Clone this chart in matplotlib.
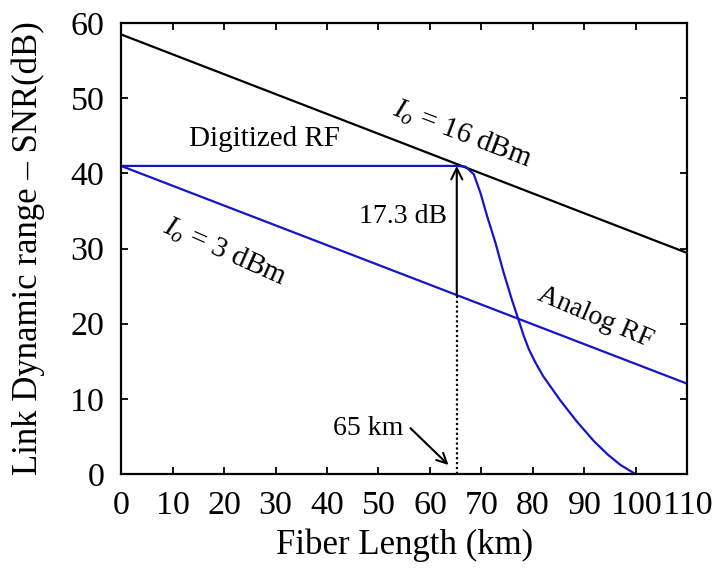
import matplotlib
matplotlib.use("Agg")
import matplotlib.pyplot as plt
import numpy as np

# fiber length (km) vs link SNR (dB)
x_line = [0, 110]
hi_power = [58.5, 29.4]     # I_o = 16 dBm
analog = [41.0, 12.0]       # I_o = 3 dBm (Analog RF)
dig_x = [0, 65.2, 66.9, 68.5, 69.8, 71.1, 72.7, 74.3, 75.9, 77.2, 78.2, 79.2,
         80.5, 82.0, 85.3, 88.5, 91.8, 94.5, 97.0, 99.9]
dig_y = [41.0, 41.0, 40.9, 39.9, 37.4, 34.3, 30.8, 26.8, 23.2, 20.5, 18.4, 16.6,
         14.8, 13.0, 9.8, 7.0, 4.4, 2.6, 1.2, 0.0]
mark_km = 65.2
mark_lo, mark_hi = 23.8, 41.0

plt.rcParams["font.family"] = ["Liberation Serif", "DejaVu Serif"]
plt.rcParams["mathtext.fontset"] = "custom"
plt.rcParams["mathtext.it"] = "Liberation Serif:italic"
plt.rcParams["mathtext.rm"] = "Liberation Serif"

blue = "#1414c8"
fig = plt.figure(figsize=(7.17, 5.70), dpi=100)
ax = fig.add_axes([0.1688, 0.1684, 0.790, 0.791])

ax.plot(x_line, hi_power, color="black", lw=1.6)
ax.plot(x_line, analog, color=blue, lw=1.6)
ax.plot(dig_x, dig_y, color=blue, lw=1.6)

# 17.3 dB gap at 65 km
ax.annotate("", xy=(mark_km, mark_hi), xytext=(mark_km, mark_lo),
            arrowprops=dict(arrowstyle="->", color="black", lw=1.5, shrinkA=0, shrinkB=0,
                            mutation_scale=20))
ax.plot([mark_km, mark_km], [0, mark_lo], ls=(0, (1, 1.2)), color="black", lw=1.6)
ax.annotate("", xy=(63.6, 1.2), xytext=(56.2, 6.1),
            arrowprops=dict(arrowstyle="->", color="black", lw=1.5, shrinkA=0, shrinkB=0,
                            mutation_scale=18))
ax.text(48.0, 6.0, "65 km", fontsize=20, ha="center", va="center")

ax.text(54.7, 33.4, "17.3 dB", fontsize=20, ha="center", va="baseline")
ax.text(27.8, 43.7, "Digitized RF", fontsize=21, ha="center", va="baseline")
ax.text(66.3, 45.2, r"$I_o$ = 16 dBm", fontsize=21, ha="center", va="center", rotation=-21)
ax.text(20.2, 29.6, r"$I_o$ = 3 dBm", fontsize=21, ha="center", va="center", rotation=-24)
ax.text(92.1, 20.8, "Analog RF", fontsize=20, ha="center", va="center", rotation=-23)

ax.set_xlim(0, 110)
ax.set_ylim(0, 60)
ax.set_xticks(np.arange(0, 111, 10))
ax.set_yticks(np.arange(0, 61, 10))
ax.tick_params(direction="in", top=True, right=True, length=5, width=1.3,
               labelsize=24.5, pad=12)
for s in ax.spines.values():
    s.set_linewidth(1.6)
ax.set_xlabel("Fiber Length (km)", fontsize=25, labelpad=5)
ax.set_ylabel("Link Dynamic range \u2013 SNR(dB)", fontsize=25)
ax.yaxis.set_label_coords(-0.135, 0.5)

fig.savefig("out.png", dpi=100)
